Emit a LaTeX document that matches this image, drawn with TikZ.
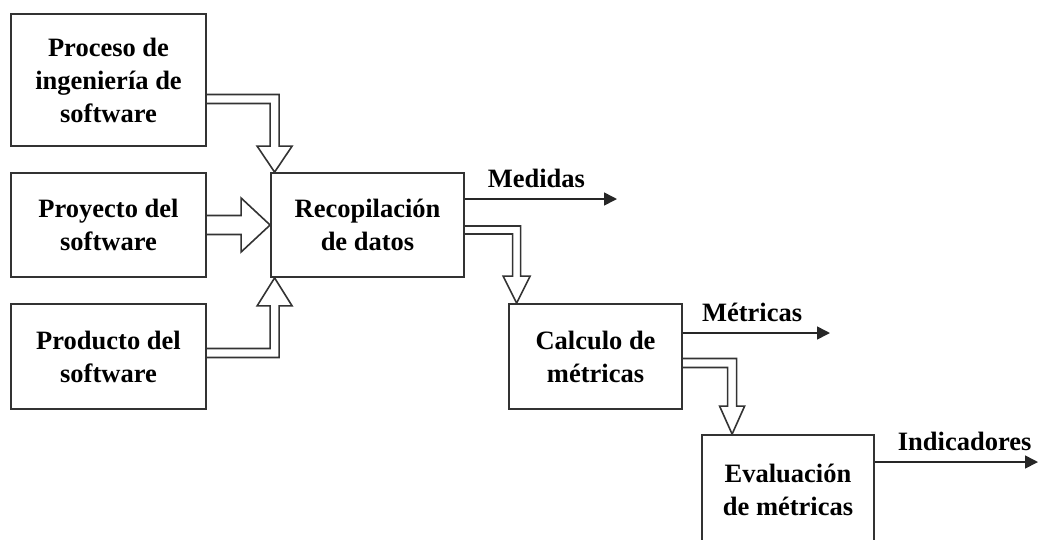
\documentclass[tikz,border=0pt]{standalone}
\usepackage{fontspec}
\setmainfont{Liberation Serif}
\usepackage{tikz}
\usetikzlibrary{arrows.meta}
\usetikzlibrary{positioning}
\usetikzlibrary{calc}

\tikzset{
  caja/.style={draw=black!80, line width=1.8pt, minimum width=195pt, minimum height=104pt,
    align=center, inner sep=0pt, font=\fontsize{26.5}{33}\selectfont\bfseries},
  hueca/.style={draw=black!80, line width=1.6pt, line join=miter},
  salida/.style={draw=black!85, line width=1.6pt, -{Triangle[length=13pt,width=13pt]}},
  rotulo/.style={font=\fontsize{26.5}{33}\selectfont\bfseries, inner sep=2pt, above=8pt}
}

% flecha hueca doblada: inicio, punta, medio ancho del cuerpo, medio ancho de la punta, sentido (1 abajo, -1 arriba), largo de la punta
\newcommand{\flechahueca}[6]{%
  \draw[hueca] ($(#1)+(0,{-(#5)*(#3)})$) -- ($(#2|-#1)+({#3},{-(#5)*(#3)})$)
    -- ($(#2)+({#3},{-(#5)*(#6)})$) -- ($(#2)+({#4},{-(#5)*(#6)})$) -- (#2)
    -- ($(#2)+({-(#4)},{-(#5)*(#6)})$) -- ($(#2)+({-(#3)},{-(#5)*(#6)})$)
    -- ($(#2|-#1)+({-(#3)},{(#5)*(#3)})$) -- ($(#1)+(0,{(#5)*(#3)})$);}

\begin{document}
\begin{tikzpicture}[x=1pt,y=-1pt]
			\useasboundingbox (0,0) rectangle (1038,539);
			\clip (0,0) rectangle (1038,539);

			% cajas
			\node[caja, minimum height=132pt] (proceso) at (108.5,80) {Proceso de\\ingeniería de\\software};
			\node[caja] (proyecto) at (108.5,225) {Proyecto del\\software};
			\node[caja, minimum height=105pt] (producto) at (108.5,356.5) {Producto del\\software};
			\node[caja, minimum width=193pt] (recopilacion) at (367.5,225) {Recopilación\\de datos};
			\node[caja, minimum width=173pt, minimum height=105pt] (calculo) at (595.5,356.5) {Calculo de\\métricas};
			\node[caja, minimum width=172pt, minimum height=110pt] (evaluacion) at (788,490) {Evaluación\\de métricas};

			% flechas huecas
			\coordinate (s1) at ($(proceso.east)+(0,19)$);
			\coordinate (t1) at ($(recopilacion.north west)+(4.5,0)$);
			\flechahueca{s1}{t1}{4.5}{17.5}{1}{26}

			\draw[hueca] ($(proyecto.east)+(0,-9.5)$) -- ($(recopilacion.west)+(-29,-9.5)$)
				-- ($(recopilacion.west)+(-29,-27)$) -- (recopilacion.west)
				-- ($(recopilacion.west)+(-29,27)$) -- ($(recopilacion.west)+(-29,9.5)$)
				-- ($(proyecto.east)+(0,9.5)$);

			\coordinate (s3) at ($(producto.east)+(0,-3.5)$);
			\coordinate (t3) at ($(recopilacion.south west)+(4.5,0)$);
			\flechahueca{s3}{t3}{4.5}{17.5}{-1}{28}

			\coordinate (s4) at ($(recopilacion.east)+(0,5)$);
			\coordinate (t4) at ($(calculo.north west)+(8.5,0)$);
			\flechahueca{s4}{t4}{4}{13.5}{1}{27}

			\coordinate (s5) at ($(calculo.east)+(0,6.5)$);
			\coordinate (t5) at ($(evaluacion.north west)+(31,0)$);
			\flechahueca{s5}{t5}{4.5}{12.5}{1}{28}

			% salidas
			\coordinate (medidas) at (617,199);
			\coordinate (metricas) at (830,333);
			\coordinate (indicadores) at (1038,462);
			\draw[salida] (recopilacion.east |- medidas) -- node[rotulo, pos=0.47] {Medidas} (medidas);
			\draw[salida] (calculo.east |- metricas) -- node[rotulo, pos=0.47] {Métricas} (metricas);
			\draw[salida] (evaluacion.east |- indicadores) -- node[rotulo, pos=0.55] {Indicadores} (indicadores);
		\end{tikzpicture}
\end{document}
